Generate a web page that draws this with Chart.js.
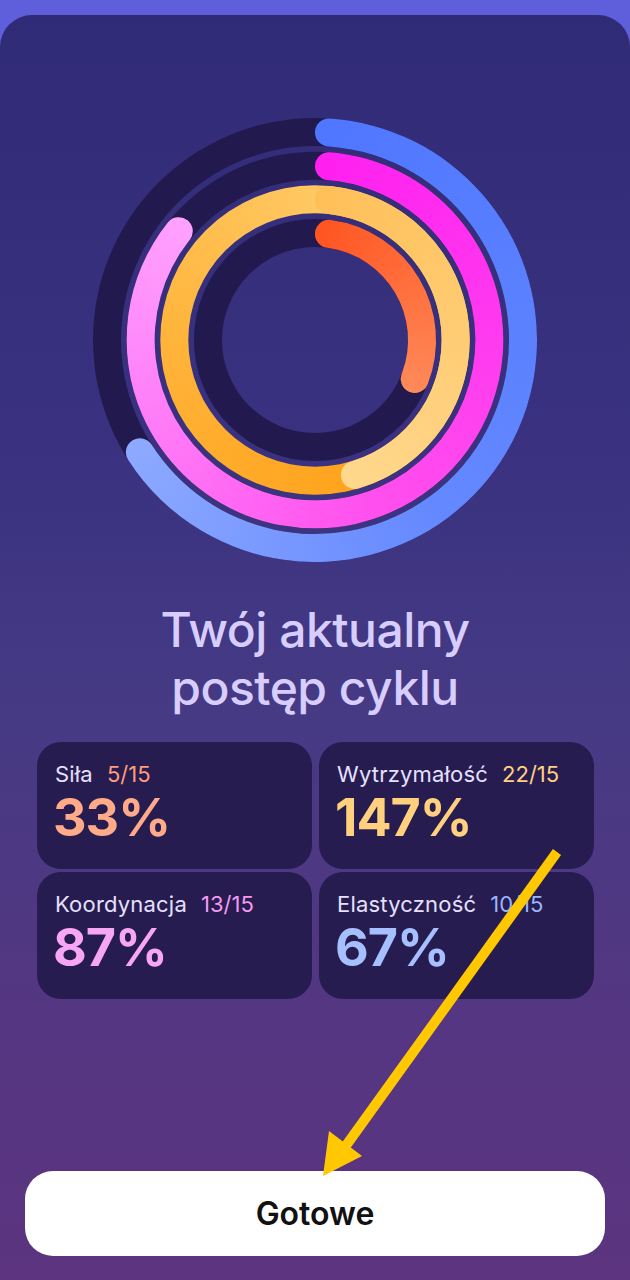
<!DOCTYPE html>
<html lang="pl">
<head>
<meta charset="utf-8">
<script src="https://cdn.jsdelivr.net/npm/chart.js@4/dist/chart.umd.min.js"></script>
<style>
  html, body { margin: 0; padding: 0; }
  body {
    width: 630px; height: 1280px; overflow: hidden; position: relative;
    background: #5f5fdc;
    font-family: "Inter", "Noto Sans", sans-serif;
  }
  .sheet {
    position: absolute; left: 0; top: 15px; width: 630px; height: 1265px;
    border-radius: 32px 32px 0 0;
    background: linear-gradient(180deg, #302b77 0%, #3a3280 35%, #463a84 55%, #553682 80%, #5c347f 100%);
  }
  .rings { position: absolute; left: 93px; top: 118px; width: 444px; height: 444px; }
  .rings canvas { position: absolute; left: 0; top: 0; }
  h1 {
    position: absolute; left: 0; top: 601px; width: 630px; margin: 0;
    text-align: center; font-weight: 500; font-size: 48px; line-height: 58px;
    color: #d8cdff; letter-spacing: -0.5px;
  }
  .card {
    position: absolute; width: 275px; height: 127px; border-radius: 24px;
    background: #261c50; box-sizing: border-box;
  }
  .card .lbl { position: absolute; left: 18px; top: 19px; font-size: 22px; letter-spacing: 0.2px; color: #e6e0ff; white-space: nowrap; }
  .card .lbl span { margin-left: 14px; letter-spacing: 0; }
  .card .pct { position: absolute; left: 16px; top: 44px; font-size: 52px; font-weight: 700; letter-spacing: -1px; }
  .btn {
    position: absolute; left: 25px; top: 1171px; width: 580px; height: 85px;
    border-radius: 28px; background: #fff; text-align: center;
    line-height: 85px; font-size: 32px; font-weight: 600; color: #111;
  }
  svg.arrow { position: absolute; left: 0; top: 0; width: 630px; height: 1280px; pointer-events: none; }
</style>
</head>
<body>
<div class="sheet"></div>
<div class="rings">
  <canvas id="trackChart" width="444" height="444"></canvas>
  <canvas id="progressChart" width="444" height="444"></canvas>
</div>
<h1>Twój aktualny<br>postęp cyklu</h1>
<div id="cards"></div>
<div class="btn">Gotowe</div>
<svg class="arrow" viewBox="0 0 630 1280">
  <line x1="557" y1="852" x2="345" y2="1147" stroke="#ffc800" stroke-width="10"/>
  <polygon points="323,1176 329,1131 362,1156" fill="#ffc800"/>
</svg>

<script>
// --- Data ---
const categories = ['Siła', 'Wytrzymałość', 'Koordynacja', 'Elastyczność'];
const done = [5, 22, 13, 10];
const target = [15, 15, 15, 15];
const pctColors = ['#ffab8a', '#ffd07e', '#f7a6f5', '#a6c0ff'];
const fracColors = ['#ff9d7c', '#ffd080', '#f39af0', '#9ab5ff'];
// ring colour stops along the circle (0 = top, clockwise)
const ringStops = [
  [[0, '#ff5420'], [0.33, '#ff8a5a']],
  [[0, '#ffbf57'], [0.47, '#ffd88e']],
  [[0, '#ff1ff0'], [0.45, '#ff50ee'], [0.87, '#ffa2ff']],
  [[0, '#4f76ff'], [0.4, '#6488ff'], [0.67, '#8eaaff']]
];
const firstLapStops = [[0, '#ffc760'], [0.47, '#ffa41e'], [0.75, '#ffb43a'], [1, '#ffc862']];
const trackColor = '#221a4f';

const percents = done.map((d, i) => Math.round(d / target[i] * 100));

// --- Cards ---
const cardPos = [[37, 742], [319, 742], [37, 872], [319, 872]];
const cardsEl = document.getElementById('cards');
categories.forEach((c, i) => {
  const el = document.createElement('div');
  el.className = 'card';
  el.style.left = cardPos[i][0] + 'px';
  el.style.top = cardPos[i][1] + 'px';
  el.innerHTML = '<div class="lbl">' + c + '<span style="color:' + fracColors[i] + '">' +
    done[i] + '/' + target[i] + '</span></div>' +
    '<div class="pct" style="color:' + pctColors[i] + '">' + percents[i] + '%</div>';
  cardsEl.appendChild(el);
});

// --- Rings (outermost first) ---
const ringOrder = [3, 2, 1, 0];

function conic(ctx, stops) {
  const chart = ctx.chart;
  const area = chart.chartArea;
  if (!area) return stops[0][1];
  const cx = (area.left + area.right) / 2;
  const cy = (area.top + area.bottom) / 2;
  const g = chart.ctx.createConicGradient(-Math.PI / 2, cx, cy);
  stops.forEach(s => g.addColorStop(s[0], s[1]));
  return g;
}

function spacer() {
  return { data: [1], backgroundColor: 'transparent', weight: 0.2 };
}

const trackSets = [];
const progressSets = [];
ringOrder.forEach((k, n) => {
  if (n > 0) { trackSets.push(spacer()); progressSets.push(spacer()); }
  const p = percents[k];
  const lap = p > 100 ? p - 100 : p;
  trackSets.push({
    data: [1],
    backgroundColor: ctx => p >= 100 ? conic(ctx, firstLapStops) : trackColor,
    weight: 1
  });
  progressSets.push({
    label: categories[k],
    data: [lap, 100 - lap],
    backgroundColor: ctx => ctx.dataIndex === 0 ? conic(ctx, ringStops[k]) : 'transparent',
    borderRadius: ctx => ctx.dataIndex === 0 ? 14 : 0,
    weight: 1
  });
});

const ringOptions = {
  responsive: false,
  animation: false,
  events: [],
  cutout: '41.9%',
  rotation: 0,
  layout: { padding: 0 },
  elements: { arc: { borderWidth: 0, hoverBorderWidth: 0 } },
  plugins: { legend: { display: false }, tooltip: { enabled: false } }
};

new Chart(document.getElementById('trackChart').getContext('2d'), {
  type: 'doughnut',
  data: { datasets: trackSets },
  options: ringOptions
});

new Chart(document.getElementById('progressChart').getContext('2d'), {
  type: 'doughnut',
  data: { labels: ['done', 'rest'], datasets: progressSets },
  options: ringOptions
});
</script>
</body>
</html>
